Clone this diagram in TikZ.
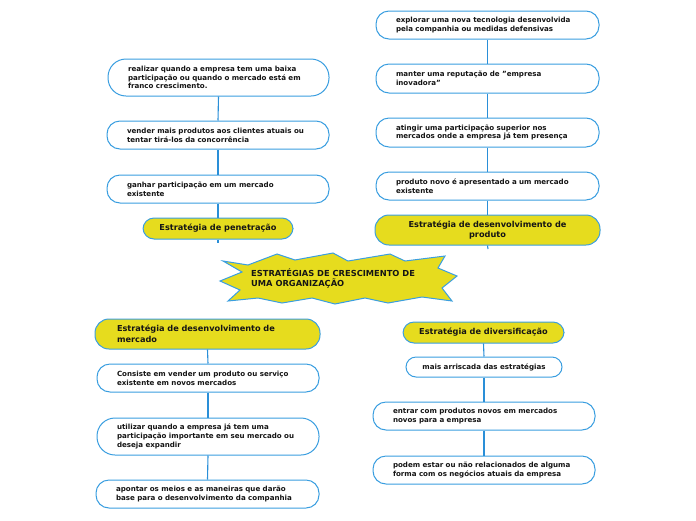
\documentclass[tikz,border=0pt]{standalone}
\usepackage{fontspec}
\setmainfont{DejaVu Sans}
\definecolor{bluel}{HTML}{3A9EE0}
\definecolor{bluec}{HTML}{2A8FD8}
\definecolor{yel}{HTML}{E6DC1E}
\definecolor{txt}{HTML}{151515}
\tikzset{
  x=1pt,y=-1pt,
  box/.style={draw=bluel, line width=1pt, fill=white, rounded corners=13pt, inner xsep=20pt, inner ysep=0pt,
    align=left, text=txt, font=\bfseries\fontsize{7.1}{8.7}\selectfont},
  topic/.style={draw=bluel, line width=1pt, fill=yel, rounded corners=11pt, inner xsep=20pt, inner ysep=0pt,
    text=txt, font=\bfseries\fontsize{8.2}{10.5}\selectfont},
  conn/.style={draw=bluec, line width=1.1pt}
}
\begin{document}
\begin{tikzpicture}
\useasboundingbox (0,0) rectangle (696,520);
\coordinate (Lstub) at (218,243);
\coordinate (Rstub) at (488,249);
% Left top group
\node[box, minimum width=221pt, minimum height=37pt, text width=181pt, rounded corners=18pt] (L1) at (218.5,77.5) {realizar quando a empresa tem uma baixa\\participação ou quando o mercado está em\\franco crescimento.};
\node[box, minimum width=222pt, minimum height=28pt, text width=182pt] (L2) at (218,135) {vender mais produtos aos clientes atuais ou\\tentar tirá-los da concorrência};
\node[box, minimum width=222pt, minimum height=28pt, text width=182pt] (L3) at (218,189) {ganhar participação em um mercado\\existente};
\node[topic, minimum width=150pt, minimum height=21pt, inner xsep=8pt, align=center] (L4) at (218,228.5) {Estratégia de penetração};
% Right top group
\node[box, minimum width=223pt, minimum height=28pt, text width=183pt] (R1) at (487.5,25) {explorar uma nova tecnologia desenvolvida\\pela companhia ou medidas defensivas};
\node[box, minimum width=223pt, minimum height=29pt, text width=183pt] (R2) at (487.5,78.5) {manter uma reputação de "empresa\\inovadora"};
\node[box, minimum width=223pt, minimum height=29pt, text width=183pt] (R3) at (487.5,132.5) {atingir uma participação superior nos\\mercados onde a empresa já tem presença};
\node[box, minimum width=223pt, minimum height=28pt, text width=183pt] (R4) at (487.5,186) {produto novo é apresentado a um mercado\\existente};
\node[topic, minimum width=225pt, minimum height=30pt, text width=185pt, align=center, rounded corners=14pt] (R5) at (487.5,230) {Estratégia de desenvolvimento de\\produto};
% Bottom left group
\node[topic, minimum width=225pt, minimum height=30pt, text width=181pt, inner xsep=22pt, align=left, rounded corners=14pt] (M1) at (207.5,334) {Estratégia de desenvolvimento de\\mercado};
\node[box, minimum width=222pt, minimum height=28pt, text width=182pt] (M2) at (208,378) {Consiste em vender um produto ou serviço\\existente em novos mercados};
\node[box, minimum width=222pt, minimum height=37pt, text width=182pt, rounded corners=18pt] (M3) at (208,436.5) {utilizar quando a empresa já tem uma\\participação importante em seu mercado ou\\deseja expandir};
\node[box, minimum width=223pt, minimum height=28pt, text width=183pt] (M4) at (207.5,494) {apontar os meios e as maneiras que darão\\base para o desenvolvimento da companhia};
% Bottom right group
\node[topic, minimum width=161pt, minimum height=21pt, inner xsep=8pt, align=center] (D1) at (483.5,332.5) {Estratégia de diversificação};
\node[box, minimum width=156pt, minimum height=20pt, inner xsep=8pt, align=center, rounded corners=10pt] (D2) at (484,367) {mais arriscada das estratégias};
\node[box, minimum width=222pt, minimum height=28pt, text width=182pt] (D3) at (484,416) {entrar com produtos novos em mercados\\novos para a empresa};
\node[box, minimum width=222pt, minimum height=28pt, text width=182pt] (D4) at (484,470) {podem estar ou não relacionados de alguma\\forma com os negócios atuais da empresa};
% connectors
\draw[conn] (L1.south) -- (L2.north);
\draw[conn] (L2.south) -- (L3.north);
\draw[conn] (L3.south) -- (L4.north);
\draw[conn] (L4.south) -- (Lstub);
\draw[conn] (R1.south) -- (R2.north);
\draw[conn] (R2.south) -- (R3.north);
\draw[conn] (R3.south) -- (R4.north);
\draw[conn] (R4.south) -- (R5.north);
\draw[conn] (R5.south) -- (Rstub);
\draw[conn] (M1.south) -- (M2.north);
\draw[conn] (M2.south) -- (M3.north);
\draw[conn] (M3.south) -- (M4.north);
\draw[conn] (D1.south) -- (D2.north);
\draw[conn] (D2.south) -- (D3.north);
\draw[conn] (D3.south) -- (D4.north);
% central star
\draw[draw=bluel, line width=1pt, fill=yel, line join=miter]
 (223,261) -- (248,265) -- (277,254) -- (295,260) -- (333,253) -- (348,261) -- (390,254) -- (405,261)
 -- (445,256) -- (438,268) -- (457,276) -- (442,288) -- (452,301) -- (422,297) -- (388,303) -- (365,298)
 -- (335,304) -- (312,298) -- (282,303) -- (258,298) -- (228,301) -- (240,290) -- (220,281) -- (242,272) -- cycle;
\node[text=txt, font=\bfseries\fontsize{8.3}{10}\selectfont, align=left, anchor=north west, inner sep=0pt] (C) at (251,269) {ESTRATÉGIAS DE CRESCIMENTO DE\\UMA ORGANIZAÇÃO};
\end{tikzpicture}
\end{document}
